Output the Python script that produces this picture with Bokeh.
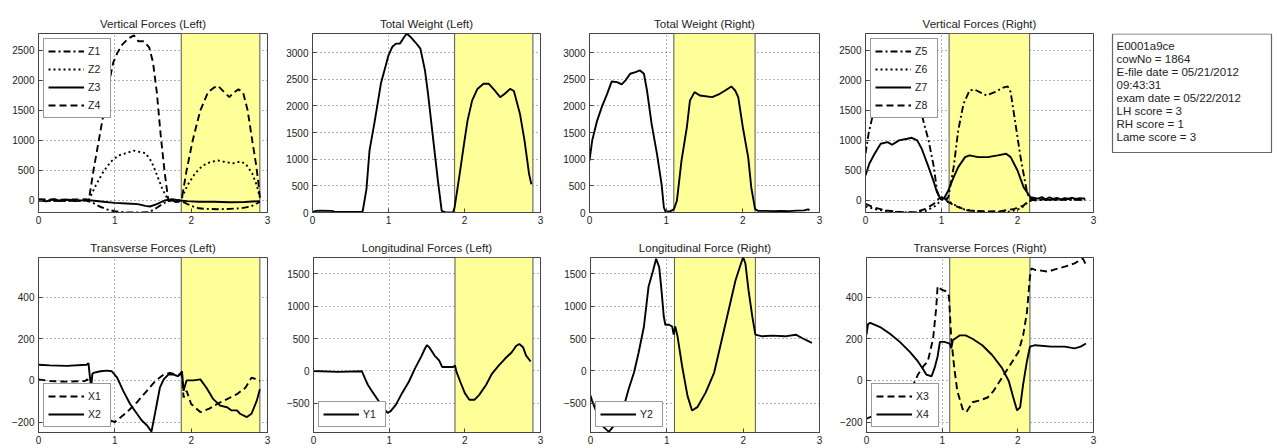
from bokeh.plotting import figure
from bokeh.layouts import row, column
from bokeh.models import FixedTicker, Range1d
from bokeh.embed import file_html
from bokeh.resources import INLINE
from bokeh.core.properties import value

# ---------------- data ----------------
x_ticks = [0, 1, 2, 3]
x_limits = [0, 3]

stance_left = [1.87, 2.9]
stance_right = [1.1, 2.16]

# Vertical Forces (Left)
vfl_z1_t = [0, 0.3, 0.62, 0.7, 0.8, 0.9, 1.0, 1.15, 1.3, 1.45, 1.55, 1.65, 1.72, 1.85, 1.92, 2.0, 2.1, 2.2, 2.35, 2.5, 2.65, 2.78, 2.86, 2.9]
vfl_z1 = [0, -10, 0, -30, -100, -150, -180, -200, -200, -195, -120, -40, 0, -10, -40, -90, -130, -140, -145, -140, -130, -100, -50, -20]
vfl_z2_t = [0, 0.62, 0.66, 0.75, 0.85, 0.95, 1.05, 1.15, 1.25, 1.32, 1.4, 1.48, 1.55, 1.62, 1.7, 1.8, 1.87, 1.95, 2.05, 2.15, 2.25, 2.35, 2.45, 2.55, 2.65, 2.72, 2.8, 2.86, 2.9]
vfl_z2 = [0, 0, 10, 250, 480, 650, 750, 790, 830, 810, 790, 650, 430, 200, 0, -10, 20, 250, 450, 580, 640, 665, 640, 620, 650, 600, 450, 250, 50]
vfl_z3_t = [0, 0.1, 0.2, 0.3, 0.4, 0.5, 0.62, 0.7, 0.85, 1.0, 1.15, 1.3, 1.4, 1.46, 1.55, 1.65, 1.75, 1.85, 1.95, 2.1, 2.3, 2.5, 2.7, 2.9]
vfl_z3 = [10, -15, 20, -10, 15, -10, 10, 0, -20, -40, -50, -60, -90, -100, -60, 0, 20, 0, -10, -20, -20, -30, -25, -10]
vfl_z4_t = [0, 0.3, 0.62, 0.66, 0.72, 0.79, 0.86, 0.93, 0.98, 1.03, 1.1, 1.18, 1.25, 1.31, 1.38, 1.45, 1.5, 1.55, 1.6, 1.65, 1.7, 1.76, 1.84, 1.88, 1.94, 2.02, 2.12, 2.22, 2.3, 2.35, 2.42, 2.5, 2.56, 2.62, 2.68, 2.74, 2.8, 2.85, 2.88, 2.9]
vfl_z4 = [20, 15, 20, 10, 500, 1000, 1500, 2000, 2300, 2450, 2600, 2700, 2750, 2650, 2650, 2550, 2300, 1800, 1100, 500, 0, -30, -20, 50, 500, 1000, 1500, 1800, 1880, 1910, 1820, 1720, 1800, 1850, 1800, 1500, 1000, 600, 300, 50]

# Total Weight (Left)
twl_t = [0, 0.05, 0.1, 0.25, 0.3, 0.5, 0.64, 0.66, 0.71, 0.75, 0.82, 0.9, 1.0, 1.05, 1.1, 1.15, 1.2, 1.24, 1.29, 1.35, 1.42, 1.48, 1.52, 1.59, 1.65, 1.7, 1.75, 1.85, 1.87, 1.93, 2.0, 2.04, 2.1, 2.17, 2.25, 2.32, 2.38, 2.47, 2.53, 2.6, 2.65, 2.73, 2.79, 2.85, 2.88]
twl = [10, 30, 35, 30, 10, 10, 15, 20, 440, 1160, 1725, 2420, 2950, 3110, 3170, 3170, 3280, 3360, 3295, 3200, 3075, 2667, 2230, 1350, 600, 30, 0, 0, 100, 660, 1350, 1725, 2100, 2320, 2416, 2416, 2320, 2165, 2230, 2320, 2280, 1850, 1350, 720, 530]

# Total Weight (Right)
twr_t = [0, 0.035, 0.1, 0.16, 0.23, 0.29, 0.36, 0.42, 0.47, 0.53, 0.6, 0.66, 0.71, 0.75, 0.81, 0.88, 0.94, 0.97, 0.99, 1.05, 1.1, 1.14, 1.2, 1.27, 1.31, 1.37, 1.44, 1.6, 1.7, 1.77, 1.85, 1.9, 1.94, 2.0, 2.07, 2.11, 2.16, 2.2, 2.3, 2.4, 2.5, 2.6, 2.7, 2.8, 2.85, 2.87]
twr = [973, 1350, 1725, 1977, 2228, 2460, 2448, 2404, 2480, 2604, 2636, 2667, 2604, 2290, 1663, 1100, 533, 94, 20, 20, 60, 220, 973, 1600, 2100, 2260, 2196, 2165, 2228, 2290, 2366, 2290, 2165, 1600, 1035, 470, 63, 30, 30, 25, 30, 25, 35, 40, 60, 44]

# Vertical Forces (Right)
vfr_z5_t = [0, 0.04, 0.1, 0.2, 0.35, 0.5, 0.62, 0.7, 0.77, 0.83, 0.9, 0.94, 0.98, 1.03, 1.09, 1.16, 1.22, 1.29, 1.37, 1.44, 1.59, 1.7, 1.81, 1.87, 1.91, 1.98, 2.04, 2.1, 2.13, 2.17, 2.3, 2.5, 2.7, 2.89]
vfr_z5 = [780, 1110, 1445, 1700, 1800, 1820, 1850, 1650, 1280, 1000, 555, 167, 28, 0, 55, 555, 1167, 1611, 1833, 1844, 1750, 1805, 1878, 1900, 1805, 1222, 722, 305, 111, 28, 10, 10, 10, 10]
vfr_z6_t = [0, 0.15, 0.3, 0.5, 0.66, 0.8, 0.92, 1.0, 1.05, 1.15, 1.3, 1.5, 1.7, 1.9, 2.05, 2.15, 2.3, 2.6, 2.89]
vfr_z6 = [-100, -150, -180, -200, -200, -170, -90, 10, 30, -60, -150, -185, -190, -185, -130, -10, 10, 15, 15]
vfr_z7_t = [0, 0.05, 0.12, 0.2, 0.29, 0.35, 0.44, 0.55, 0.61, 0.68, 0.74, 0.83, 0.9, 0.94, 0.98, 1.03, 1.09, 1.16, 1.22, 1.31, 1.37, 1.48, 1.61, 1.74, 1.85, 1.91, 2.0, 2.08, 2.17, 2.22, 2.27, 2.32, 2.37, 2.42, 2.47, 2.52, 2.57, 2.62, 2.67, 2.72, 2.77, 2.82, 2.89]
vfr_z7 = [417, 611, 778, 944, 972, 928, 1000, 1028, 1044, 1000, 861, 555, 305, 139, 44, 28, 167, 389, 555, 722, 750, 722, 722, 750, 778, 722, 500, 222, 55, 44, 30, 55, 20, 50, 25, 45, 20, 40, 30, 45, 25, 40, 28]
vfr_z8_t = [0, 0.1, 0.27, 0.48, 0.66, 0.79, 0.9, 0.96, 1.01, 1.09, 1.22, 1.35, 1.61, 1.78, 1.96, 2.08, 2.15, 2.3, 2.5, 2.7, 2.89]
vfr_z8 = [-55, -111, -167, -194, -194, -139, -55, 28, 55, -28, -111, -167, -183, -178, -139, -83, 0, 20, 15, 25, 20]

# Transverse Forces (Left)
tfl_x1_t = [0, 0.15, 0.37, 0.61, 0.64, 0.67, 0.69, 0.72, 0.85, 1.0, 1.16, 1.29, 1.42, 1.53, 1.64, 1.72, 1.81, 1.88, 1.9, 1.94, 2.0, 2.12, 2.23, 2.34, 2.47, 2.6, 2.71, 2.79, 2.86, 2.9]
tfl_x1 = [5, -3, -6, -3, 5, -19, -50, -100, -180, -200, -152, -105, -50, -3, 28, 36, 28, 28, -82, -50, -113, -152, -137, -113, -90, -66, -35, 13, 5, -3]
tfl_x2_t = [0, 0.15, 0.37, 0.63, 0.655, 0.67, 0.69, 0.705, 0.72, 0.81, 0.9, 0.96, 1.03, 1.11, 1.2, 1.29, 1.35, 1.42, 1.48, 1.55, 1.59, 1.64, 1.7, 1.77, 1.83, 1.88, 1.9, 1.94, 2.03, 2.12, 2.2, 2.29, 2.38, 2.47, 2.53, 2.6, 2.64, 2.73, 2.79, 2.86, 2.9]
tfl_x2 = [75, 72, 70, 75, 83, 28, -35, 30, 36, 44, 47, 44, 13, -50, -113, -160, -191, -215, -246, -113, -35, 5, 28, 28, 20, 44, -50, 0, 0, 5, -35, -90, -121, -129, -144, -144, -160, -176, -160, -97, -42]

# Longitudinal Forces (Left)
lfl_t = [0, 0.32, 0.64, 0.68, 0.72, 0.79, 0.85, 0.92, 0.98, 1.02, 1.09, 1.17, 1.26, 1.34, 1.43, 1.47, 1.5, 1.53, 1.6, 1.66, 1.7, 1.79, 1.85, 1.87, 1.89, 1.94, 2.0, 2.06, 2.13, 2.19, 2.28, 2.36, 2.45, 2.53, 2.62, 2.68, 2.72, 2.77, 2.81, 2.87]
lfl_y1 = [0, -15, -5, -116, -217, -343, -444, -570, -646, -621, -520, -343, -167, 35, 237, 338, 399, 364, 237, 162, 61, 61, 61, 86, -15, -167, -343, -444, -444, -369, -217, -40, 86, 187, 288, 389, 414, 364, 237, 146]

# Longitudinal Force (Right)
lfr_t = [0, 0.02, 0.07, 0.11, 0.17, 0.24, 0.31, 0.37, 0.44, 0.5, 0.57, 0.63, 0.7, 0.76, 0.82, 0.86, 0.9, 0.93, 0.96, 0.98, 1.03, 1.07, 1.09, 1.11, 1.14, 1.2, 1.27, 1.33, 1.4, 1.51, 1.62, 1.7, 1.81, 1.9, 1.97, 2.0, 2.03, 2.07, 2.12, 2.16, 2.25, 2.38, 2.55, 2.69, 2.77, 2.9]
lfr_y2 = [-381, -458, -610, -788, -864, -941, -839, -686, -534, -280, -25, 280, 686, 1297, 1551, 1729, 1602, 1246, 839, 712, 712, 686, 559, 686, 534, 76, -381, -610, -559, -331, -25, 381, 941, 1398, 1653, 1754, 1653, 1246, 839, 559, 534, 544, 534, 559, 508, 432]

# Transverse Forces (Right)
tfr_x3_t = [0, 0.2, 0.4, 0.62, 0.68, 0.75, 0.81, 0.88, 0.92, 0.94, 0.99, 1.05, 1.09, 1.12, 1.16, 1.2, 1.27, 1.32, 1.36, 1.4, 1.49, 1.6, 1.68, 1.79, 1.9, 2.01, 2.07, 2.12, 2.16, 2.18, 2.23, 2.31, 2.4, 2.49, 2.62, 2.75, 2.86, 2.88, 2.9]
tfr_x3 = [-184, -150, -100, -19, 28, 67, 91, 200, 342, 452, 436, 428, 405, 200, 60, -50, -137, -152, -129, -105, -97, -82, -50, 13, 75, 138, 216, 326, 499, 538, 530, 527, 522, 533, 546, 562, 585, 570, 554]
tfr_x4_t = [0, 0.02, 0.05, 0.18, 0.31, 0.44, 0.57, 0.68, 0.75, 0.79, 0.86, 0.9, 0.94, 0.97, 1.03, 1.1, 1.12, 1.14, 1.23, 1.31, 1.4, 1.53, 1.66, 1.79, 1.88, 1.94, 1.99, 2.03, 2.07, 2.12, 2.16, 2.23, 2.44, 2.62, 2.75, 2.83, 2.9]
tfr_x4 = [220, 270, 276, 256, 224, 185, 138, 91, 52, 28, 20, 60, 115, 185, 185, 177, 154, 193, 216, 216, 200, 169, 122, 60, -3, -82, -144, -129, -19, 91, 162, 169, 162, 162, 154, 162, 177]

# axis limits / ticks
vf_ylim = [-200, 2780]
vf_yticks = [0, 500, 1000, 1500, 2000, 2500]
tw_ylim = [0, 3360]
tw_yticks = [0, 500, 1000, 1500, 2000, 2500, 3000]
tf_ylim = [-250, 590]
tf_yticks = [-200, 0, 200, 400]
lf_ylim = [-950, 1750]
lf_yticks = [-500, 0, 500, 1000, 1500]

info_lines = ["E0001a9ce", "cowNo = 1864", "E-file date = 05/21/2012", "09:43:31",
              "exam date = 05/22/2012", "LH score = 3", "RH score = 1", "Lame score = 3"]

# ---------------- styles ----------------
FONT = "Liberation Sans"
YELLOW = "#ffff99"
DASHED = "7 4"
DASHDOT = "7 3 2 3"
DOTTED = "2 3"
SOLID = "solid"
LW = 1.9


def make_panel(title, width, height, bl, br, bt, bb, ylim, yticks, stance, series, legend_loc):
    p = figure(width=width, height=height, output_backend="svg", toolbar_location=None,
               x_range=Range1d(*x_limits), y_range=Range1d(*ylim),
               min_border_left=bl, min_border_right=br, min_border_top=bt, min_border_bottom=bb,
               title=title)
    p.title.text_font = FONT
    p.title.text_font_size = "11.5px"
    p.title.text_font_style = "normal"
    p.title.text_color = "#222222"
    p.title.align = "center"
    p.title.standoff = 8
    p.outline_line_color = "#444444"
    p.outline_line_width = 1
    p.border_fill_color = "white"
    p.xaxis.ticker = FixedTicker(ticks=x_ticks)
    p.yaxis.ticker = FixedTicker(ticks=yticks)
    for ax in p.axis:
        ax.major_label_text_font = FONT
        ax.major_label_text_font_size = "10px"
        ax.major_label_text_color = "#222222"
        ax.axis_line_color = "#444444"
        ax.major_tick_line_color = "#444444"
        ax.major_tick_in = 4
        ax.major_tick_out = 0
        ax.minor_tick_line_color = None
    p.xaxis.major_label_standoff = 3
    p.yaxis.major_label_standoff = 4
    for g in (p.xgrid, p.ygrid):
        g.grid_line_color = "#444444"
        g.grid_line_dash = "1 3"
        g.grid_line_alpha = 0.8
    p.quad(left=[stance[0]], right=[stance[1]], bottom=[ylim[0]], top=[ylim[1]],
           fill_color=YELLOW, line_color="#555555", line_width=1)
    has_legend = False
    for t, v, label, dash in series:
        kw = dict(line_color="black", line_width=LW, line_dash=dash)
        if label:
            kw["legend_label"] = label
            has_legend = True
        p.line(t, v, **kw)
    if has_legend:
        leg = p.legend[0]
        leg.location = legend_loc
        leg.margin = 5
        leg.padding = 4
        leg.spacing = 2
        leg.label_text_font = FONT
        leg.label_text_font_size = "10.5px"
        leg.label_text_color = "#222222"
        leg.glyph_width = 36
        leg.glyph_height = 16
        leg.label_height = 16
        leg.label_width = 18
        leg.label_standoff = 4
        leg.border_line_color = "#333333"
        leg.border_line_width = 1
        leg.background_fill_color = "white"
        leg.background_fill_alpha = 1
    return p


H1, T1, B1 = 230, 33, 18
H2, T2, B2 = 218, 27, 16
# (width, border left, border right) for each column
cols = [(283, 38, 16), (277, 29, 20), (276, 27, 17), (269, 27, 12)]

p1 = make_panel("Vertical Forces (Left)", cols[0][0], H1, cols[0][1], cols[0][2], T1, B1,
                vf_ylim, vf_yticks, stance_left,
                [(vfl_z1_t, vfl_z1, "Z1", DASHDOT), (vfl_z2_t, vfl_z2, "Z2", DOTTED),
                 (vfl_z3_t, vfl_z3, "Z3", SOLID), (vfl_z4_t, vfl_z4, "Z4", DASHED)], "top_left")
p2 = make_panel("Total Weight (Left)", cols[1][0], H1, cols[1][1], cols[1][2], T1, B1,
                tw_ylim, tw_yticks, stance_left, [(twl_t, twl, None, SOLID)], "top_left")
p3 = make_panel("Total Weight (Right)", cols[2][0], H1, cols[2][1], cols[2][2], T1, B1,
                tw_ylim, tw_yticks, stance_right, [(twr_t, twr, None, SOLID)], "top_left")
p4 = make_panel("Vertical Forces (Right)", cols[3][0], H1, cols[3][1], cols[3][2], T1, B1,
                vf_ylim, vf_yticks, stance_right,
                [(vfr_z5_t, vfr_z5, "Z5", DASHDOT), (vfr_z6_t, vfr_z6, "Z6", DOTTED),
                 (vfr_z7_t, vfr_z7, "Z7", SOLID), (vfr_z8_t, vfr_z8, "Z8", DASHED)], "top_left")

p5 = make_panel("Transverse Forces (Left)", cols[0][0], H2, cols[0][1], cols[0][2], T2, B2,
                tf_ylim, tf_yticks, stance_left,
                [(tfl_x1_t, tfl_x1, "X1", DASHED), (tfl_x2_t, tfl_x2, "X2", SOLID)], "bottom_left")
p6 = make_panel("Longitudinal Forces (Left)", cols[1][0], H2, cols[1][1], cols[1][2], T2, B2,
                lf_ylim, lf_yticks, stance_left, [(lfl_t, lfl_y1, "Y1", SOLID)], "bottom_left")
p7 = make_panel("Longitudinal Force (Right)", cols[2][0], H2, cols[2][1], cols[2][2], T2, B2,
                lf_ylim, lf_yticks, stance_right, [(lfr_t, lfr_y2, "Y2", SOLID)], "bottom_left")
p8 = make_panel("Transverse Forces (Right)", cols[3][0], H2, cols[3][1], cols[3][2], T2, B2,
                tf_ylim, tf_yticks, stance_right,
                [(tfr_x3_t, tfr_x3, "X3", DASHED), (tfr_x4_t, tfr_x4, "X4", SOLID)], "bottom_left")

# info box: a figure whose data units are page pixels (its frame is aligned
# with the neighbouring frames, so the y range spans the frame's page rows)
BW = 170
info = figure(width=BW, height=H1, output_backend="svg", toolbar_location=None,
              x_range=Range1d(0, BW), y_range=Range1d(H1 - B1, T1),
              min_border=0, outline_line_color=None, title=None)
info.axis.visible = False
info.grid.visible = False
box_left, box_right, box_top, box_bottom = 7, 166, 33.5, 152
info.quad(left=[box_left], right=[box_right], top=[box_top], bottom=[box_bottom],
          fill_color="white", line_color="#666666", line_width=1.2)
first_y, step = 45, 13
info.text(x=[box_left + 4] * len(info_lines),
          y=[first_y + i * step for i in range(len(info_lines))],
          text=info_lines, text_font=value(FONT), text_font_size="11.5px",
          text_color="#222222", text_baseline="middle", text_align="left")

layout = column(row(p1, p2, p3, p4, info), row(p5, p6, p7, p8))
open("out.html", "w").write(file_html(layout, INLINE))
